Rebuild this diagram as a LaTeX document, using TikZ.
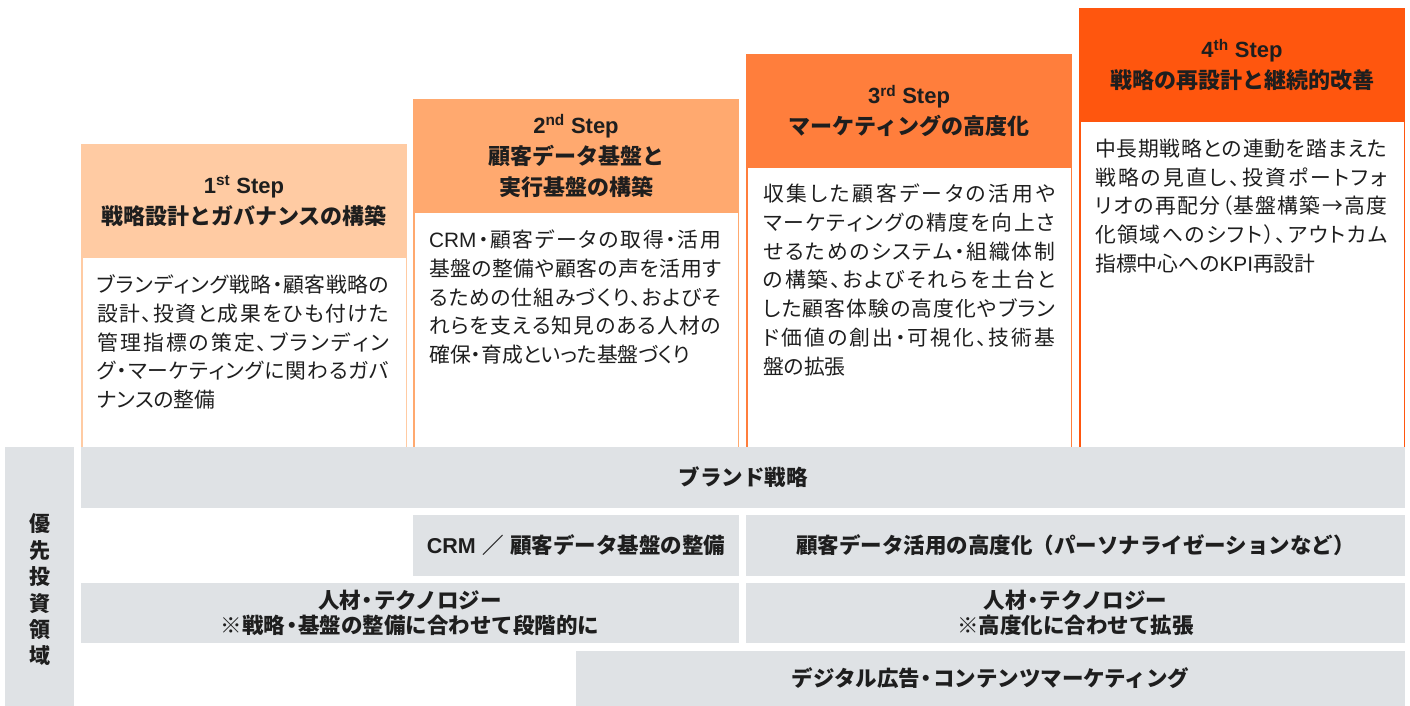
\documentclass[tikz,border=0pt]{standalone}
\usepackage{fontspec}
\setmainfont{Noto Sans CJK JP}
\newfontfamily\jpp[RawFeature=+palt]{Noto Sans CJK JP}
\newfontfamily\lat{Liberation Sans}
\definecolor{cA}{HTML}{FFCBA3}
\definecolor{cB}{HTML}{FFA96F}
\definecolor{cC}{HTML}{FF7E3C}
\definecolor{cD}{HTML}{FF560E}
\definecolor{barg}{HTML}{DFE2E5}
\definecolor{txt}{HTML}{1E1E1E}
\makeatletter
\def\jl@end{\jl@end@marker}
\def\jl@a#1{\ifx\jl@end#1\unskip\else#1\hfil\expandafter\jl@a\fi}
\newcommand\jl[1]{\hbox to 292pt{\jl@a#1\jl@end}}
\makeatother
\def\tCRM{{\lat CRM}}
\def\tKPI{{\lat KPI}}
\newcommand\nd{\kern-0.2em・\kern-0.2em}
\newcommand\stp[2]{{\lat\bfseries #1\textsuperscript{#2} Step}}
\begin{document}
\begin{tikzpicture}[x=1pt,y=-1pt,
  hdr/.style={anchor=north west, minimum width=326pt, minimum height=114pt, inner sep=0pt, outer sep=0pt, align=center, text=txt, font=\bfseries\fontsize{22}{31}\selectfont},
  colbody/.style={anchor=north west, minimum width=326pt, inner sep=0pt, outer sep=0pt},
  bodytext/.style={anchor=north west, inner sep=0pt, align=left, text=txt, font=\jpp\fontsize{20.8}{28.8}\selectfont},
  bar/.style={fill=barg, inner sep=0pt, outer sep=0pt, anchor=north west, align=center, text=txt, font=\bfseries\fontsize{21.5}{25}\selectfont},
  edge/.style={line width=1.5pt}
]
\useasboundingbox (0,0) rectangle (1410,706);

% ---------- Step columns ----------
\node[hdr, fill=cA] (h1) at (81,144) {\stp{1}{st}\\戦略設計とガバナンスの構築};
\node[hdr, fill=cB] (h2) at (413,99) {\stp{2}{nd}\\顧客データ基盤と\\実行基盤の構築};
\node[hdr, fill=cC] (h3) at (746,54) {\stp{3}{rd}\\マーケティングの高度化};
\node[hdr, fill=cD] (h4) at (1079,8) {\stp{4}{th}\\戦略の再設計と継続的改善};

\node[colbody, minimum height=190pt] (b1) at (81,258) {};
\node[colbody, minimum height=235pt] (b2) at (413,213) {};
\node[colbody, minimum height=281pt] (b3) at (746,167) {};
\node[colbody, minimum height=326pt] (b4) at (1079,122) {};

\foreach \b/\c in {b1/cA,b2/cB,b3/cC,b4/cD}{
  \draw[edge, \c] ([xshift=0.75pt]\b.north west) -- ([xshift=0.75pt]\b.south west);
  \draw[edge, \c] ([xshift=-0.75pt]\b.north east) -- ([xshift=-0.75pt]\b.south east);
}

\node[bodytext] (t1) at (97,274.5) {\jl{ブランディング戦略・顧客戦略の}\\\jl{設計、投資と成果をひも付けた}\\\jl{管理指標の策定、ブランディン}\\\jl{グ・マーケティングに関わるガバ}\\ナンスの整備};
\node[bodytext] (t2) at (429,229.5) {\jl{\tCRM・顧客データの取得・活用}\\\jl{基盤の整備や顧客の声を活用す}\\\jl{るための仕組みづくり、およびそ}\\\jl{れらを支える知見のある人材の}\\確保・育成といった基盤づくり};
\node[bodytext] (t3) at (763,183.5) {\jl{収集した顧客データの活用や}\\\jl{マーケティングの精度を向上さ}\\\jl{せるためのシステム・組織体制}\\\jl{の構築、およびそれらを土台と}\\\jl{した顧客体験の高度化やブラン}\\\jl{ド価値の創出・可視化、技術基}\\盤の拡張};
\node[bodytext] (t4) at (1095,138.5) {\jl{中長期戦略との連動を踏まえた}\\\jl{戦略の見直し、投資ポートフォ}\\\jl{リオの再配分（基盤構築→高度}\\\jl{化領域へのシフト）、アウトカム}\\指標中心への\tKPI 再設計};

% ---------- Priority investment areas ----------
\node[bar, minimum width=69pt, minimum height=259pt] (lab) at (5,447) {};
\node[text=txt, align=center, inner sep=0pt, font=\bfseries\fontsize{21}{26.4}\selectfont] (labt) at (39.5,590) {優\\先\\投\\資\\領\\域};

\node[bar, minimum width=1324pt, minimum height=61pt] (brand) at (81,447) {ブランド戦略};
\node[bar, minimum width=326pt, minimum height=61pt] (crm) at (413,515) {{\lat CRM}\hspace{0.3em}／\hspace{0.3em}顧客データ基盤の整備};
\node[bar, minimum width=659pt, minimum height=61pt] (data) at (746,515) {顧客データ活用の高度化（パーソナライゼーションなど）};
\node[bar, minimum width=658pt, minimum height=60pt] (hrL) at (81,583) {人材\nd テクノロジー\\※戦略\nd 基盤の整備に合わせて段階的に};
\node[bar, minimum width=659pt, minimum height=60pt] (hrR) at (746,583) {人材\nd テクノロジー\\※高度化に合わせて拡張};
\node[bar, minimum width=829pt, minimum height=55pt] (dig) at (576,651) {デジタル広告\nd コンテンツマーケティング};
\end{tikzpicture}
\end{document}
